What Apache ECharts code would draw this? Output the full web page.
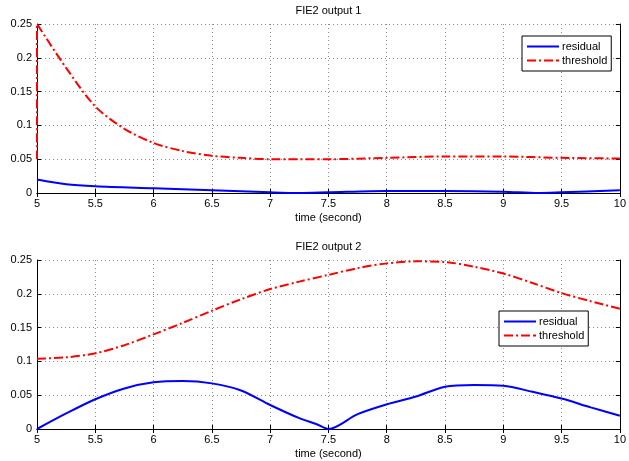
<!DOCTYPE html>
<html>
<head>
<meta charset="utf-8">
<script src="https://cdn.jsdelivr.net/npm/echarts@6/dist/echarts.min.js"></script>
<style>
html,body{margin:0;padding:0;background:#fff;}
#chart{width:629px;height:461px;}
</style>
</head>
<body>
<div id="chart"></div>
<script>
// output 1
var t1 = [5, 5, 5.25, 5.5, 5.75, 6, 6.25, 6.5, 6.75, 7, 7.5, 8, 8.5, 9, 9.5, 10]
var thr1 = [0.05, 0.25, 0.185, 0.128, 0.095, 0.074, 0.062, 0.055, 0.052, 0.050, 0.050, 0.052, 0.054, 0.054, 0.052, 0.051]
var tr1 = [5, 5.25, 5.5, 6, 6.5, 7, 7.25, 7.5, 8, 8.5, 9, 9.3, 9.5, 10]
var res1 = [0.020, 0.013, 0.010, 0.007, 0.004, 0.001, 0.0, 0.001, 0.003, 0.003, 0.002, 0.0, 0.001, 0.004]

// output 2
var t2 = [5, 5.25, 5.5, 5.75, 6, 6.25, 6.5, 6.75, 7, 7.25, 7.5, 7.75, 8, 8.25, 8.5, 8.75, 9, 9.25, 9.5, 9.75, 10]
var thr2 = [0.104, 0.106, 0.112, 0.124, 0.140, 0.157, 0.175, 0.192, 0.207, 0.218, 0.228, 0.238, 0.245, 0.248, 0.247, 0.240, 0.230, 0.216, 0.201, 0.189, 0.178]
var tr2 = [5, 5.25, 5.5, 5.75, 6, 6.25, 6.5, 6.75, 7, 7.25, 7.4, 7.5, 7.75, 8, 8.25, 8.5, 8.75, 9, 9.25, 9.5, 9.75, 10]
var res2 = [0.0, 0.023, 0.044, 0.060, 0.069, 0.071, 0.0675, 0.057, 0.0355, 0.016, 0.007, 0.0, 0.022, 0.0365, 0.048, 0.0626, 0.065, 0.064, 0.055, 0.045, 0.032, 0.0197]

var titles = ['FIE2 output 1', 'FIE2 output 2']

function pairs(xs, ys){
    return xs.map(function(x, i){ return [x, ys[i]] })
}

var font = 'Liberation Sans, Arial, sans-serif'
var dashDot = [9, 3, 2, 3]
var gridLine = {color: '#8a8a8a', type: [1, 3], width: 1}
var solidIcon = 'path://M0,0 L32,0 L32,2 L0,2 Z'
var dashIcon = 'path://M0,0 L9,0 L9,2 L0,2 Z M12,0 L14,0 L14,2 L12,2 Z M17,0 L26,0 L26,2 L17,2 Z M29,0 L32,0 L32,2 L29,2 Z'

function xAxes(idx){
    return [{
        type: 'value', gridIndex: idx, min: 5, max: 10, interval: 0.5,
        name: 'time (second)', nameLocation: 'middle', nameGap: 19,
        nameTextStyle: {color: '#000', fontSize: 11, fontFamily: font},
        axisLine: {lineStyle: {color: '#000', width: 1}},
        axisTick: {inside: true, length: 4, lineStyle: {color: '#000'}},
        axisLabel: {color: '#000', fontSize: 11, fontFamily: font, margin: 5},
        splitLine: {show: true, lineStyle: gridLine}
    }, {
        type: 'value', gridIndex: idx, position: 'top', min: 5, max: 10, interval: 0.5,
        name: titles[idx], nameLocation: 'middle', nameGap: 8,
        nameTextStyle: {color: '#000', fontSize: 11, fontFamily: font},
        axisLine: {lineStyle: {color: '#000', width: 1}},
        axisTick: {inside: true, length: 4, lineStyle: {color: '#000'}},
        axisLabel: {show: false},
        splitLine: {show: false}
    }]
}

function yAxes(idx){
    return [{
        type: 'value', gridIndex: idx, min: 0, max: 0.25, interval: 0.05,
        axisLine: {show: true, lineStyle: {color: '#000', width: 1}},
        axisTick: {show: true, inside: true, length: 4, lineStyle: {color: '#000'}},
        axisLabel: {color: '#000', fontSize: 11, fontFamily: font, margin: 5},
        splitLine: {show: true, lineStyle: gridLine}
    }, {
        type: 'value', gridIndex: idx, position: 'right', min: 0, max: 0.25, interval: 0.05,
        axisLine: {show: true, lineStyle: {color: '#000', width: 1}},
        axisTick: {show: true, inside: true, length: 4, lineStyle: {color: '#000'}},
        axisLabel: {show: false},
        splitLine: {show: false}
    }]
}

function legendFor(idx, left, top){
    return {
        data: [
            {name: 'residual' + idx, icon: solidIcon, itemStyle: {color: '#0000ff'}},
            {name: 'threshold' + idx, icon: dashIcon, itemStyle: {color: '#ff0000'}}
        ],
        formatter: function(n){ return n.replace(/[0-9]/g, '') },
        orient: 'vertical', left: left, top: top,
        itemWidth: 32, itemHeight: 8, itemGap: 3,
        padding: [5, 4, 5, 5],
        borderColor: '#000', borderWidth: 1, backgroundColor: '#fff',
        textStyle: {color: '#000', fontSize: 11, fontFamily: font, padding: [0, 0, 0, -2]}
    }
}

var chart = echarts.init(document.getElementById('chart'))
var xs = xAxes(0).concat(xAxes(1))
var ys = yAxes(0).concat(yAxes(1))

function series(name, idx, data, color, dashed){
    return {
        name: name, type: 'line', xAxisIndex: idx * 2, yAxisIndex: idx * 2,
        data: data, showSymbol: false, symbol: 'none', smooth: 0.3,
        lineStyle: {color: color, width: 2, type: dashed ? dashDot : 'solid'},
        itemStyle: {color: color},
        animation: false
    }
}

chart.setOption({
    animation: false,
    grid: [
        {left: 37, top: 24, width: 586, height: 169},
        {left: 37, top: 260, width: 586, height: 169}
    ],
    xAxis: xs,
    yAxis: ys,
    legend: [legendFor(0, 522, 36), legendFor(1, 499, 311)],
    series: [
        series('residual0', 0, pairs(tr1, res1), '#0000ff', false),
        series('threshold0', 0, pairs(t1, thr1), '#ff0000', true),
        series('residual1', 1, pairs(tr2, res2), '#0000ff', false),
        series('threshold1', 1, pairs(t2, thr2), '#ff0000', true)
    ]
})
</script>
</body>
</html>
